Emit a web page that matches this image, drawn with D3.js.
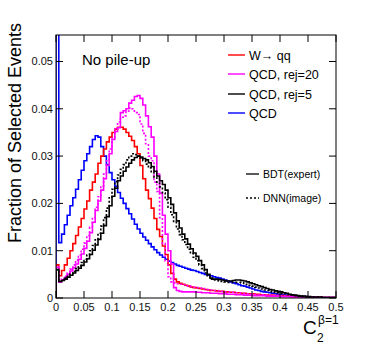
<!DOCTYPE html>
<html><head><meta charset="utf-8">
<script src="https://cdn.jsdelivr.net/npm/d3@7"></script>
<style>body{margin:0;background:#fff}svg{display:block}text{font-family:"Liberation Sans",Arial,Helvetica,sans-serif}</style>
</head><body><svg id="c" width="374" height="352"></svg>
<script>
// ---- data (bin width 0.005, 100 bins from 0 to 0.5) ----
const binWidth = 0.005;
const xTicks = [0,0.05,0.1,0.15,0.2,0.25,0.3,0.35,0.4,0.45,0.5];
const xTickLabels = ["0","0.05","0.1","0.15","0.2","0.25","0.3","0.35","0.4","0.45","0.5"];
const yTicks = [0,0.01,0.02,0.03,0.04,0.05];
const yTickLabels = ["0","0.01","0.02","0.03","0.04","0.05"];
const legendLabels = ["W\u2192 qq","QCD, rej=20","QCD, rej=5","QCD"];
const styleLabels = ["BDT(expert)","DNN(image)"];

const qcd = [0.0700,0.0117,0.0135,0.0155,0.0175,0.0195,0.0212,0.0230,0.0250,0.0270,
0.0290,0.0305,0.0320,0.0335,0.0343,0.0340,0.0320,0.0300,0.0282,0.0265,
0.0250,0.0236,0.0223,0.0211,0.0200,0.0189,0.0178,0.0167,0.0156,0.0146,
0.0137,0.0129,0.0122,0.0115,0.0108,0.0102,0.0096,0.0091,0.0086,0.0082,
0.0078,0.0075,0.0072,0.0069,0.0067,0.0065,0.0063,0.0061,0.0059,0.0058,
0.0056,0.0054,0.0052,0.0050,0.0048,0.0047,0.0045,0.0043,0.0042,0.0040,
0.0038,0.0036,0.0034,0.0032,0.0030,0.0028,0.0026,0.0025,0.0023,0.0021,
0.0019,0.0017,0.0016,0.0014,0.0013,0.0012,0.0011,0.0010,0.0009,0.0008,
0.0007,0.0006,0.0006,0.0005,0.0005,0.0004,0.0004,0.0003,0.0003,0.0003,
0.0002,0.0002,0.0002,0.0002,0.0002,0.0001,0.0001,0.0001,0.0001,0.0001];

const wqq = [0.0070,0.0047,0.0058,0.0070,0.0084,0.0100,0.0115,0.0132,0.0150,0.0168,
0.0188,0.0205,0.0228,0.0245,0.0262,0.0285,0.0300,0.0315,0.0330,0.0340,
0.0350,0.0357,0.0361,0.0361,0.0357,0.0350,0.0342,0.0333,0.0320,0.0305,
0.0280,0.0252,0.0228,0.0210,0.0190,0.0168,0.0145,0.0130,0.0110,0.0092,
0.0070,0.0052,0.0040,0.0034,0.0031,0.0029,0.0027,0.0025,0.0023,0.0022,
0.0021,0.0020,0.0019,0.0018,0.0017,0.0016,0.0016,0.0015,0.0014,0.0014,
0.0013,0.0013,0.0012,0.0012,0.0011,0.0011,0.0010,0.0010,0.0009,0.0009,
0.0009,0.0008,0.0008,0.0007,0.0007,0.0006,0.0006,0.0006,0.0005,0.0005,
0.0005,0.0004,0.0004,0.0004,0.0003,0.0003,0.0003,0.0003,0.0002,0.0002,
0.0002,0.0002,0.0002,0.0002,0.0002,0.0001,0.0001,0.0001,0.0001,0.0001];

const rej20BDT = [0.0065,0.0034,0.0038,0.0043,0.0050,0.0057,0.0064,0.0072,0.0082,0.0093,
0.0105,0.0120,0.0138,0.0160,0.0185,0.0205,0.0228,0.0252,0.0280,0.0305,
0.0335,0.0352,0.0360,0.0392,0.0396,0.0400,0.0412,0.0418,0.0426,0.0428,
0.0422,0.0408,0.0385,0.0362,0.0340,0.0300,0.0262,0.0222,0.0175,0.0135,
0.0100,0.0072,0.0022,0.0016,0.0014,0.0013,0.0013,0.0013,0.0013,0.0013,
0.0012,0.0012,0.0011,0.0011,0.0011,0.0010,0.0010,0.0010,0.0009,0.0009,
0.0009,0.0008,0.0008,0.0008,0.0007,0.0007,0.0007,0.0006,0.0006,0.0006,
0.0005,0.0005,0.0005,0.0005,0.0005,0.0004,0.0004,0.0004,0.0004,0.0004,
0.0003,0.0003,0.0003,0.0003,0.0003,0.0002,0.0002,0.0002,0.0002,0.0002,
0.0002,0.0002,0.0002,0.0001,0.0001,0.0001,0.0001,0.0001,0.0001,0.0001];

const rej20DNN = [0.0065,0.0034,0.0040,0.0046,0.0053,0.0061,0.0070,0.0080,0.0091,0.0103,
0.0116,0.0132,0.0150,0.0170,0.0192,0.0214,0.0237,0.0262,0.0290,0.0315,
0.0340,0.0360,0.0372,0.0382,0.0385,0.0395,0.0402,0.0400,0.0392,0.0388,
0.0368,0.0348,0.0326,0.0300,0.0290,0.0245,0.0225,0.0170,0.0115,0.0078,
0.0045,0.0034,0.0032,0.0030,0.0029,0.0028,0.0026,0.0025,0.0024,0.0023,
0.0022,0.0021,0.0020,0.0019,0.0018,0.0017,0.0016,0.0016,0.0015,0.0014,
0.0013,0.0013,0.0012,0.0012,0.0011,0.0011,0.0010,0.0010,0.0009,0.0009,
0.0008,0.0008,0.0007,0.0007,0.0006,0.0006,0.0006,0.0005,0.0005,0.0005,
0.0004,0.0004,0.0004,0.0004,0.0003,0.0003,0.0003,0.0003,0.0002,0.0002,
0.0002,0.0002,0.0002,0.0002,0.0001,0.0001,0.0001,0.0001,0.0001,0.0001];

const rej5BDT = [0.0060,0.0035,0.0037,0.0040,0.0044,0.0048,0.0053,0.0058,0.0063,0.0069,
0.0076,0.0083,0.0092,0.0101,0.0112,0.0124,0.0137,0.0153,0.0172,0.0195,
0.0215,0.0232,0.0248,0.0258,0.0268,0.0277,0.0285,0.0292,0.0297,0.0300,
0.0298,0.0295,0.0292,0.0286,0.0278,0.0268,0.0258,0.0248,0.0240,0.0228,
0.0212,0.0198,0.0180,0.0163,0.0148,0.0135,0.0125,0.0114,0.0104,0.0095,
0.0088,0.0079,0.0070,0.0060,0.0050,0.0042,0.0040,0.0040,0.0039,0.0038,
0.0037,0.0036,0.0036,0.0037,0.0038,0.0038,0.0037,0.0036,0.0034,0.0032,
0.0030,0.0028,0.0026,0.0024,0.0022,0.0020,0.0018,0.0017,0.0015,0.0014,
0.0013,0.0011,0.0010,0.0008,0.0007,0.0006,0.0005,0.0004,0.0004,0.0003,
0.0003,0.0002,0.0002,0.0002,0.0002,0.0001,0.0001,0.0001,0.0001,0.0001];

const rej5DNN = [0.0060,0.0035,0.0038,0.0042,0.0046,0.0051,0.0056,0.0062,0.0068,0.0075,
0.0082,0.0091,0.0100,0.0111,0.0123,0.0137,0.0152,0.0170,0.0190,0.0212,
0.0230,0.0246,0.0260,0.0272,0.0282,0.0292,0.0300,0.0305,0.0303,0.0300,
0.0296,0.0290,0.0283,0.0275,0.0265,0.0255,0.0245,0.0235,0.0222,0.0208,
0.0192,0.0176,0.0160,0.0146,0.0134,0.0123,0.0113,0.0103,0.0094,0.0086,
0.0079,0.0070,0.0062,0.0053,0.0045,0.0040,0.0038,0.0037,0.0036,0.0035,
0.0034,0.0033,0.0033,0.0033,0.0033,0.0033,0.0032,0.0031,0.0029,0.0027,
0.0025,0.0023,0.0021,0.0019,0.0017,0.0016,0.0014,0.0013,0.0012,0.0011,
0.0010,0.0009,0.0008,0.0007,0.0006,0.0005,0.0004,0.0004,0.0003,0.0003,
0.0002,0.0002,0.0002,0.0002,0.0002,0.0001,0.0001,0.0001,0.0001,0.0001];

// ---- chart ----
const svg = d3.select("#c");
const L = 56, R = 336, T = 35, B = 298;
const x = d3.scaleLinear().domain([0,0.5]).range([L,R]);
const y = d3.scaleLinear().domain([0,0.0556]).range([B,T]);

svg.append("rect").attr("width",374).attr("height",352).attr("fill","#fff");
svg.append("clipPath").attr("id","pc").append("rect")
  .attr("x",L).attr("y",T).attr("width",R-L).attr("height",B-T);

const line = d3.line().x(d=>x(d[0])).y(d=>y(d[1])).curve(d3.curveStepAfter);
function pts(arr){
  const p = [[0,0]];
  arr.forEach((v,i)=>p.push([i*binWidth, v]));
  p.push([arr.length*binWidth, arr[arr.length-1]]);
  return p;
}
const series = [
  {d:qcd, c:"#0000ff", dash:null},
  {d:wqq, c:"#ff0000", dash:null},
  {d:rej20DNN, c:"#ff00ff", dash:"2,2"},
  {d:rej20BDT, c:"#ff00ff", dash:null},
  {d:rej5DNN, c:"#000000", dash:"2,2"},
  {d:rej5BDT, c:"#000000", dash:null}
];
const g = svg.append("g").attr("clip-path","url(#pc)");
series.forEach(s=>{
  g.append("path").attr("d", line(pts(s.d))).attr("fill","none")
   .attr("stroke", s.c).attr("stroke-width",1.6)
   .attr("stroke-dasharray", s.dash);
});

// frame and ticks
const ax = svg.append("g").attr("stroke","#000").attr("stroke-width",1);
ax.append("rect").attr("x",L).attr("y",T).attr("width",R-L).attr("height",B-T).attr("fill","none");
xTicks.forEach(t=>{
  ax.append("line").attr("x1",x(t)).attr("x2",x(t)).attr("y1",B).attr("y2",B-7);
  ax.append("line").attr("x1",x(t)).attr("x2",x(t)).attr("y1",T).attr("y2",T+7);
});
yTicks.forEach(t=>{
  ax.append("line").attr("x1",L).attr("x2",L+7).attr("y1",y(t)).attr("y2",y(t));
  ax.append("line").attr("x1",R).attr("x2",R-7).attr("y1",y(t)).attr("y2",y(t));
});
xTicks.forEach((t,i)=>{
  svg.append("text").attr("x",x(t)).attr("y",B+13).attr("text-anchor","middle")
    .attr("font-size",11).attr("fill","#111").text(xTickLabels[i]);
});
yTicks.forEach((t,i)=>{
  svg.append("text").attr("x",L-3).attr("y",y(t)+4).attr("text-anchor","end")
    .attr("font-size",11).attr("fill","#111").text(yTickLabels[i]);
});

// axis titles
svg.append("text").attr("transform","translate(21,133) rotate(-90)")
  .attr("text-anchor","middle").attr("font-size",18).attr("fill","#000")
  .text("Fraction of Selected Events");
svg.append("text").attr("x",303).attr("y",334).attr("font-size",19).attr("fill","#000").text("C");
svg.append("text").attr("x",317).attr("y",342).attr("font-size",12).text("2");
svg.append("text").attr("x",318).attr("y",324).attr("font-size",12).text("\u03b2=1");

// annotation
svg.append("text").attr("x",82).attr("y",65).attr("font-size",15).text("No pile-up");

// legend
const legColors = ["#ff0000","#ff00ff","#000000","#0000ff"];
const legY = [55,74,94,113];
legendLabels.forEach((lab,i)=>{
  svg.append("line").attr("x1",228).attr("x2",245).attr("y1",legY[i]).attr("y2",legY[i])
    .attr("stroke",legColors[i]).attr("stroke-width",1.4);
  svg.append("text").attr("x",249).attr("y",legY[i]+4.5).attr("font-size",12.5).text(lab);
});
const styY = [174,198];
const styDash = [null,"2,2"];
styleLabels.forEach((lab,i)=>{
  svg.append("line").attr("x1",246).attr("x2",259).attr("y1",styY[i]).attr("y2",styY[i])
    .attr("stroke","#000").attr("stroke-width",1.3).attr("stroke-dasharray",styDash[i]);
  svg.append("text").attr("x",263).attr("y",styY[i]+3.8).attr("font-size",10.5).text(lab);
});
</script></body></html>
